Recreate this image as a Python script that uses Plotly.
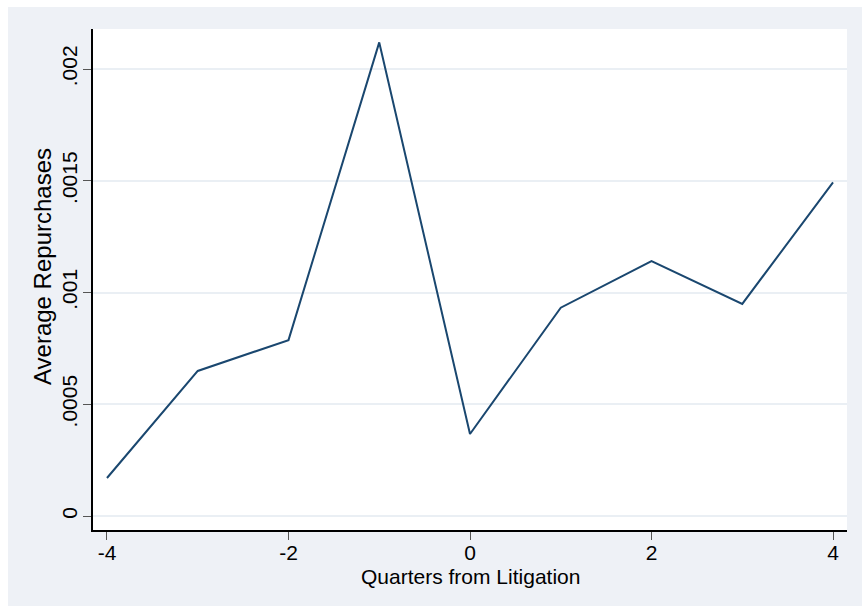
import plotly.graph_objects as go

quarters = [-4, -3, -2, -1, 0, 1, 2, 3, 4]
avg_repurchases = [0.000170, 0.000649, 0.000787, 0.002119, 0.000367, 0.000932, 0.001140, 0.000949, 0.001493]

y_tickvals = [0, 0.0005, 0.001, 0.0015, 0.002]
y_ticktext = ["0", ".0005", ".001", ".0015", ".002"]
x_tickvals = [-4, -2, 0, 2, 4]
x_ticktext = ["-4", "-2", "0", "2", "4"]

BG = "#EEF1F6"
W, H = 862, 606
L, R, T, B = 93, 15, 29, 76

fig = go.Figure()
fig.add_trace(go.Scatter(x=quarters, y=avg_repurchases, mode="lines",
                         line=dict(color="#1a476f", width=2), showlegend=False))

pw = W - L - R
ph = H - T - B
# white strips (top and left) outside the light graph region
fig.add_shape(type="rect", xref="paper", yref="paper", layer="above",
              x0=-L / pw, x1=(W - L) / pw, y0=1 + (T - 7) / ph, y1=1 + T / ph,
              line=dict(width=0), fillcolor="white")
fig.add_shape(type="rect", xref="paper", yref="paper", layer="above",
              x0=-L / pw, x1=(8 - L) / pw, y0=-(B) / ph, y1=1 + T / ph,
              line=dict(width=0), fillcolor="white")

# axis titles placed as annotations (paper coordinates relative to plot area)
fig.add_annotation(text="Quarters from Litigation", xref="paper", yref="paper",
                   x=(470 - L) / pw, y=-(576 - (H - B)) / ph, showarrow=False,
                   xanchor="center", yanchor="middle", font=dict(size=21))
fig.add_annotation(text="Average Repurchases", xref="paper", yref="paper",
                   x=(42 - L) / pw, y=(H - B - 267) / ph, showarrow=False, textangle=-90,
                   xanchor="center", yanchor="middle", font=dict(size=24))

fig.update_layout(
    width=W, height=H,
    margin=dict(l=L, r=R, t=T, b=B),
    paper_bgcolor=BG, plot_bgcolor="white",
    font=dict(family="Liberation Sans, Arial, sans-serif", size=21, color="black"),
    xaxis=dict(range=[-4.154, 4.154], tickvals=x_tickvals, ticktext=x_ticktext,
               ticks="outside", ticklen=8, ticklabelstandoff=-5,
               tickcolor="#555555", tickwidth=1, showline=True, linecolor="black", linewidth=1.5,
               showgrid=False, zeroline=False, tickfont=dict(size=21)),
    yaxis=dict(range=[-0.0000626, 0.002179], tickvals=y_tickvals, ticktext=y_ticktext,
               tickangle=-90, ticks="outside", ticklen=8, tickcolor="#555555", tickwidth=1,
               ticklabelstandoff=-2,
               showline=True, linecolor="black", linewidth=1.5, tickfont=dict(size=21),
               showgrid=True, gridcolor="#EAEFF4", gridwidth=1.5, zeroline=False),
)

fig.write_html("out.html")
